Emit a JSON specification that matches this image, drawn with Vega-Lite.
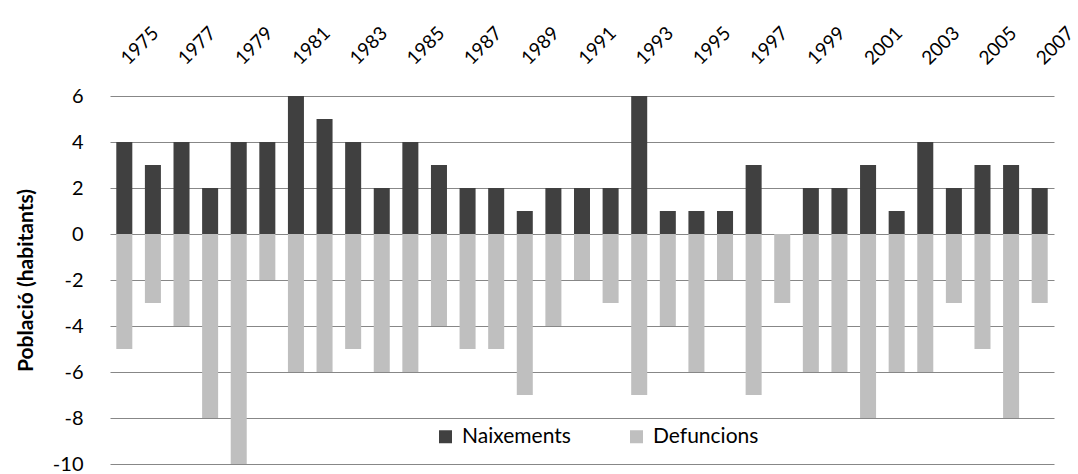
{
  "$schema": "https://vega.github.io/schema/vega-lite/v6.json",
  "width": 944,
  "height": 368,
  "autosize": "none",
  "padding": {"left": 110, "top": 96, "right": 24, "bottom": 10},
  "background": "white",
  "config": {
    "font": "Lato",
    "view": {"stroke": null}
  },
  "datasets": {
    "pop": [
      {"year": 1975, "serie": "Naixements", "value": 4}, {"year": 1975, "serie": "Defuncions", "value": -5},
      {"year": 1976, "serie": "Naixements", "value": 3}, {"year": 1976, "serie": "Defuncions", "value": -3},
      {"year": 1977, "serie": "Naixements", "value": 4}, {"year": 1977, "serie": "Defuncions", "value": -4},
      {"year": 1978, "serie": "Naixements", "value": 2}, {"year": 1978, "serie": "Defuncions", "value": -8},
      {"year": 1979, "serie": "Naixements", "value": 4}, {"year": 1979, "serie": "Defuncions", "value": -10},
      {"year": 1980, "serie": "Naixements", "value": 4}, {"year": 1980, "serie": "Defuncions", "value": -2},
      {"year": 1981, "serie": "Naixements", "value": 6}, {"year": 1981, "serie": "Defuncions", "value": -6},
      {"year": 1982, "serie": "Naixements", "value": 5}, {"year": 1982, "serie": "Defuncions", "value": -6},
      {"year": 1983, "serie": "Naixements", "value": 4}, {"year": 1983, "serie": "Defuncions", "value": -5},
      {"year": 1984, "serie": "Naixements", "value": 2}, {"year": 1984, "serie": "Defuncions", "value": -6},
      {"year": 1985, "serie": "Naixements", "value": 4}, {"year": 1985, "serie": "Defuncions", "value": -6},
      {"year": 1986, "serie": "Naixements", "value": 3}, {"year": 1986, "serie": "Defuncions", "value": -4},
      {"year": 1987, "serie": "Naixements", "value": 2}, {"year": 1987, "serie": "Defuncions", "value": -5},
      {"year": 1988, "serie": "Naixements", "value": 2}, {"year": 1988, "serie": "Defuncions", "value": -5},
      {"year": 1989, "serie": "Naixements", "value": 1}, {"year": 1989, "serie": "Defuncions", "value": -7},
      {"year": 1990, "serie": "Naixements", "value": 2}, {"year": 1990, "serie": "Defuncions", "value": -4},
      {"year": 1991, "serie": "Naixements", "value": 2}, {"year": 1991, "serie": "Defuncions", "value": -2},
      {"year": 1992, "serie": "Naixements", "value": 2}, {"year": 1992, "serie": "Defuncions", "value": -3},
      {"year": 1993, "serie": "Naixements", "value": 6}, {"year": 1993, "serie": "Defuncions", "value": -7},
      {"year": 1994, "serie": "Naixements", "value": 1}, {"year": 1994, "serie": "Defuncions", "value": -4},
      {"year": 1995, "serie": "Naixements", "value": 1}, {"year": 1995, "serie": "Defuncions", "value": -6},
      {"year": 1996, "serie": "Naixements", "value": 1}, {"year": 1996, "serie": "Defuncions", "value": -2},
      {"year": 1997, "serie": "Naixements", "value": 3}, {"year": 1997, "serie": "Defuncions", "value": -7},
      {"year": 1998, "serie": "Naixements", "value": 0}, {"year": 1998, "serie": "Defuncions", "value": -3},
      {"year": 1999, "serie": "Naixements", "value": 2}, {"year": 1999, "serie": "Defuncions", "value": -6},
      {"year": 2000, "serie": "Naixements", "value": 2}, {"year": 2000, "serie": "Defuncions", "value": -6},
      {"year": 2001, "serie": "Naixements", "value": 3}, {"year": 2001, "serie": "Defuncions", "value": -8},
      {"year": 2002, "serie": "Naixements", "value": 1}, {"year": 2002, "serie": "Defuncions", "value": -6},
      {"year": 2003, "serie": "Naixements", "value": 4}, {"year": 2003, "serie": "Defuncions", "value": -6},
      {"year": 2004, "serie": "Naixements", "value": 2}, {"year": 2004, "serie": "Defuncions", "value": -3},
      {"year": 2005, "serie": "Naixements", "value": 3}, {"year": 2005, "serie": "Defuncions", "value": -5},
      {"year": 2006, "serie": "Naixements", "value": 3}, {"year": 2006, "serie": "Defuncions", "value": -8},
      {"year": 2007, "serie": "Naixements", "value": 2}, {"year": 2007, "serie": "Defuncions", "value": -3}
    ]
  },
  "data": {"name": "pop"},
  "mark": {"type": "bar", "stroke": null},
  "encoding": {
    "x": {
      "field": "year",
      "type": "ordinal",
      "scale": {"paddingInner": 0.44, "paddingOuter": 0.22},
      "axis": {
        "orient": "top",
        "title": null,
        "values": [1975, 1977, 1979, 1981, 1983, 1985, 1987, 1989, 1991, 1993, 1995, 1997, 1999, 2001, 2003, 2005, 2007],
        "labelAngle": -45,
        "labelAlign": "left",
        "labelBaseline": "middle",
        "labelFont": "Lato",
        "labelFontSize": 19,
        "labelColor": "#000000",
        "labelPadding": 35,
        "labelOverlap": false,
        "labelBound": false,
        "ticks": false,
        "tickSize": 0,
        "domain": false,
        "grid": false
      }
    },
    "y": {
      "field": "value",
      "type": "quantitative",
      "stack": null,
      "scale": {"domain": [-10, 6], "nice": false, "zero": true},
      "axis": {
        "title": "Població (habitants)",
        "titleFont": "Lato",
        "titleFontSize": 21,
        "titleFontWeight": "bold",
        "titleColor": "#000000",
        "titlePadding": 16,
        "values": [-10, -8, -6, -4, -2, 0, 2, 4, 6],
        "labelExpr": "'' + datum.value",
        "labelFont": "Lato",
        "labelFontSize": 20,
        "labelColor": "#000000",
        "labelPadding": 27,
        "ticks": false,
        "tickSize": 0,
        "domain": false,
        "grid": true,
        "gridColor": "#878787",
        "gridWidth": 1.2,
        "gridOpacity": 1
      }
    },
    "color": {
      "field": "serie",
      "type": "nominal",
      "scale": {"domain": ["Naixements", "Defuncions"], "range": ["#404040", "#BFBFBF"]},
      "legend": {
        "title": null,
        "orient": "none",
        "direction": "horizontal",
        "legendX": 325,
        "legendY": 330,
        "symbolType": "square",
        "symbolSize": 169,
        "symbolStrokeWidth": 0,
        "symbolOpacity": 1,
        "labelFont": "Lato",
        "labelFontSize": 21,
        "labelColor": "#000000",
        "labelOffset": 6,
        "columnPadding": 55,
        "padding": 0
      }
    }
  }
}
